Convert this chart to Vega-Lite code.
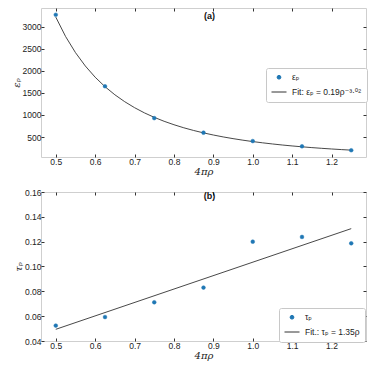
{
  "$schema": "https://vega.github.io/schema/vega-lite/v6.json",
  "padding": {"left": 10, "top": 7, "right": 3, "bottom": 5},
  "background": "white",
  "spacing": 10,
  "datasets": {
    "eps": [
      {"x": 0.5, "y": 3270, "s": "εₚ"}, {"x": 0.625, "y": 1650, "s": "εₚ"}, {"x": 0.75, "y": 928, "s": "εₚ"},
      {"x": 0.875, "y": 598, "s": "εₚ"}, {"x": 1.0, "y": 408, "s": "εₚ"}, {"x": 1.125, "y": 290, "s": "εₚ"}, {"x": 1.25, "y": 200, "s": "εₚ"}
    ],
    "epsfit": [
      {"x": 0.5, "y": 3217}, {"x": 0.525, "y": 2776}, {"x": 0.55, "y": 2412}, {"x": 0.575, "y": 2109},
      {"x": 0.6, "y": 1855}, {"x": 0.625, "y": 1640}, {"x": 0.65, "y": 1457}, {"x": 0.675, "y": 1300},
      {"x": 0.7, "y": 1165}, {"x": 0.725, "y": 1047}, {"x": 0.75, "y": 945.5}, {"x": 0.775, "y": 856.4},
      {"x": 0.8, "y": 778.1}, {"x": 0.825, "y": 709.0}, {"x": 0.85, "y": 647.9}, {"x": 0.875, "y": 593.6},
      {"x": 0.9, "y": 545.2}, {"x": 0.925, "y": 501.9}, {"x": 0.95, "y": 463.0}, {"x": 0.975, "y": 428.1},
      {"x": 1.0, "y": 396.6}, {"x": 1.025, "y": 368.1}, {"x": 1.05, "y": 342.3}, {"x": 1.075, "y": 318.8},
      {"x": 1.1, "y": 297.4}, {"x": 1.125, "y": 277.9}, {"x": 1.15, "y": 260.0}, {"x": 1.175, "y": 243.7},
      {"x": 1.2, "y": 228.7}, {"x": 1.225, "y": 214.9}, {"x": 1.25, "y": 202.1}
    ],
    "tau": [
      {"x": 0.5, "y": 0.0524, "s": "τₚ"}, {"x": 0.625, "y": 0.0593, "s": "τₚ"}, {"x": 0.75, "y": 0.0712, "s": "τₚ"},
      {"x": 0.875, "y": 0.0830, "s": "τₚ"}, {"x": 1.0, "y": 0.1200, "s": "τₚ"}, {"x": 1.125, "y": 0.1238, "s": "τₚ"}, {"x": 1.25, "y": 0.1187, "s": "τₚ"}
    ],
    "taufit": [
      {"x": 0.5, "y": 0.0494}, {"x": 1.25, "y": 0.1305}
    ]
  },
  "config": {
    "view": {"stroke": "#cfcfcf", "strokeWidth": 1},
    "axis": {
      "grid": false, "domain": false, "labelOverlap": false,
      "labelFont": "Liberation Sans", "labelFontSize": 8.5, "labelColor": "#222",
      "tickColor": "#333", "tickSize": -3, "tickWidth": 1, "labelPadding": 3, "titlePadding": 1,
      "titleFont": "DejaVu Serif", "titleFontStyle": "italic", "titleFontWeight": "normal",
      "titleFontSize": 10, "titleColor": "#222"
    },
    "legend": {
      "labelFont": "Liberation Sans, DejaVu Sans", "labelFontSize": 8.5, "labelColor": "#222",
      "strokeColor": "#c8c8c8", "fillColor": "white", "padding": 5, "cornerRadius": 2,
      "rowPadding": 2, "symbolSize": 100, "labelOffset": 5, "symbolStrokeWidth": 1
    },
    "title": {"font": "Liberation Sans", "fontSize": 9, "fontWeight": "bold", "color": "#111"}
  },
  "vconcat": [
    {
      "width": 325, "height": 149,
      "title": {"text": "(a)", "offset": -13, "anchor": "middle", "dx": 6},
      "resolve": {"axis": {"x": "independent", "y": "independent"}},
      "layer": [
        {
          "data": {"name": "epsfit"},
          "mark": {"type": "line", "color": "#333", "strokeWidth": 0.9},
          "encoding": {
            "x": {"field": "x", "type": "quantitative", "scale": {"domain": [0.4625, 1.2875], "nice": false, "zero": false},
                  "axis": {"orient": "bottom", "title": "4πρ", "values": [0.5, 0.6, 0.7, 0.8, 0.9, 1.0, 1.1, 1.2], "format": ".1f"}},
            "y": {"field": "y", "type": "quantitative", "scale": {"domain": [47, 3423], "nice": false, "zero": false},
                  "axis": {"orient": "left", "title": "εₚ", "values": [500, 1000, 1500, 2000, 2500, 3000], "format": "d"}}
          }
        },
        {
          "data": {"name": "eps"},
          "mark": {"type": "point", "filled": true, "strokeWidth": 0.5, "opacity": 1},
          "encoding": {
            "x": {"field": "x", "type": "quantitative",
                  "axis": {"orient": "top", "labels": false, "title": null, "values": [0.5, 0.6, 0.7, 0.8, 0.9, 1.0, 1.1, 1.2]}},
            "y": {"field": "y", "type": "quantitative",
                  "axis": {"orient": "right", "labels": false, "title": null, "values": [500, 1000, 1500, 2000, 2500, 3000]}},
            "fill": {"field": "s", "type": "nominal",
                     "scale": {"domain": ["εₚ", "Fit: εₚ = 0.19ρ⁻³·⁰²"], "range": ["#1f77b4", "transparent"]},
                     "legend": {"orient": "none", "legendX": 225, "legendY": 60, "title": null}},
            "stroke": {"field": "s", "type": "nominal",
                       "scale": {"domain": ["εₚ", "Fit: εₚ = 0.19ρ⁻³·⁰²"], "range": ["#1f77b4", "#333333"]},
                       "legend": {"orient": "none", "legendX": 225, "legendY": 60, "title": null}},
            "shape": {"field": "s", "type": "nominal",
                      "scale": {"domain": ["εₚ", "Fit: εₚ = 0.19ρ⁻³·⁰²"], "range": ["circle", "stroke"]},
                      "legend": {"orient": "none", "legendX": 225, "legendY": 60, "title": null}},
            "size": {"field": "s", "type": "nominal",
                     "scale": {"domain": ["εₚ", "Fit: εₚ = 0.19ρ⁻³·⁰²"], "range": [14, 225]},
                     "legend": {"orient": "none", "legendX": 225, "legendY": 60, "title": null}}
          }
        }
      ]
    },
    {
      "width": 325, "height": 149,
      "title": {"text": "(b)", "offset": -13, "anchor": "middle", "dx": 6},
      "resolve": {"axis": {"x": "independent", "y": "independent"}},
      "layer": [
        {
          "data": {"name": "taufit"},
          "mark": {"type": "line", "color": "#333", "strokeWidth": 0.9},
          "encoding": {
            "x": {"field": "x", "type": "quantitative", "scale": {"domain": [0.4625, 1.2875], "nice": false, "zero": false},
                  "axis": {"orient": "bottom", "title": "4πρ", "values": [0.5, 0.6, 0.7, 0.8, 0.9, 1.0, 1.1, 1.2], "format": ".1f"}},
            "y": {"field": "y", "type": "quantitative", "scale": {"domain": [0.04, 0.16], "nice": false, "zero": false},
                  "axis": {"orient": "left", "title": "τₚ", "values": [0.04, 0.06, 0.08, 0.1, 0.12, 0.14, 0.16], "format": ".2f"}}
          }
        },
        {
          "data": {"name": "tau"},
          "mark": {"type": "point", "filled": true, "strokeWidth": 0.5, "opacity": 1},
          "encoding": {
            "x": {"field": "x", "type": "quantitative",
                  "axis": {"orient": "top", "labels": false, "title": null, "values": [0.5, 0.6, 0.7, 0.8, 0.9, 1.0, 1.1, 1.2]}},
            "y": {"field": "y", "type": "quantitative",
                  "axis": {"orient": "right", "labels": false, "title": null, "values": [0.04, 0.06, 0.08, 0.1, 0.12, 0.14, 0.16]}},
            "fill": {"field": "s", "type": "nominal",
                     "scale": {"domain": ["τₚ", "Fit.: τₚ = 1.35ρ"], "range": ["#1f77b4", "transparent"]},
                     "legend": {"orient": "none", "legendX": 238, "legendY": 116, "title": null}},
            "stroke": {"field": "s", "type": "nominal",
                       "scale": {"domain": ["τₚ", "Fit.: τₚ = 1.35ρ"], "range": ["#1f77b4", "#333333"]},
                       "legend": {"orient": "none", "legendX": 238, "legendY": 116, "title": null}},
            "shape": {"field": "s", "type": "nominal",
                      "scale": {"domain": ["τₚ", "Fit.: τₚ = 1.35ρ"], "range": ["circle", "stroke"]},
                      "legend": {"orient": "none", "legendX": 238, "legendY": 116, "title": null}},
            "size": {"field": "s", "type": "nominal",
                     "scale": {"domain": ["τₚ", "Fit.: τₚ = 1.35ρ"], "range": [14, 225]},
                     "legend": {"orient": "none", "legendX": 238, "legendY": 116, "title": null}}
          }
        }
      ]
    }
  ],
  "resolve": {"scale": {"fill": "independent", "stroke": "independent", "shape": "independent", "size": "independent"}}
}
